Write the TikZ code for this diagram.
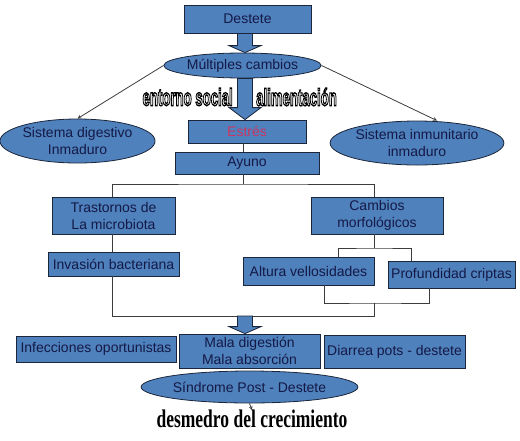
\documentclass[tikz,border=0pt]{standalone}
\usepackage{fontspec}
\setmainfont{Liberation Sans}
\newfontfamily\titlefont{Liberation Serif}
\usepackage{graphicx}
\usepackage{tikz}
\usetikzlibrary{shapes.geometric, arrows, calc}

\definecolor{boxblue}{RGB}{79,129,189}
\definecolor{boxline}{RGB}{28,38,58}
\definecolor{textnavy}{RGB}{20,25,70}
\definecolor{stressred}{RGB}{200,55,100}
\definecolor{linkgray}{RGB}{60,60,60}

% outlined letters (white inside, black edge)
\newcommand{\outlined}[1]{\scalebox{0.55}[1]{\color{white}\special{pdf:literal direct 0 0 0 RG 1.4 w 2 Tr}#1\special{pdf:literal direct 0 Tr}}}

\tikzset{
    box/.style={draw=boxline, fill=boxblue, line width=0.8pt, inner sep=0pt, align=center, text=textnavy, font=\fontsize{14}{17}\selectfont},
    oval/.style={box, ellipse},
    link/.style={draw=linkgray, line width=0.8pt},
    bigarrow/.style={draw=boxline, fill=boxblue, line width=0.8pt, line join=miter},
    wordart/.style={font=\bfseries\fontsize{24}{24}\selectfont, inner sep=0pt}
}

\begin{document}
\begin{tikzpicture}[x=1pt, y=-1pt]
    \useasboundingbox (0,0) rectangle (520,440);

    % Top of the chain
    \node[box, minimum width=127, minimum height=28] (dest) at (247.5,19) {Destete};
    \node[oval, minimum width=145, minimum height=25] (mult) at (242.5,65.5) {Múltiples cambios};
    \node[box, minimum width=118, minimum height=23, text=stressred] (estres) at (247,131.5) {Estrés};
    \node[box, minimum width=144, minimum height=22] (ayuno) at (247,163) {Ayuno};

    % Side ellipses
    \node[oval, minimum width=141, minimum height=44] (digest) at (77.5,141) {Sistema digestivo\\Inmaduro};
    \node[oval, minimum width=168, minimum height=44] (inmun) at (417,143) {Sistema inmunitario\\inmaduro};

    % Labels on the big arrow
    \node[wordart, anchor=east] (social) at (233,97) {\outlined{entorno social}};
    \node[wordart, anchor=west] (alim) at (256,97) {\outlined{alimentación}};

    % --- Two branches ---
    \node[box, minimum width=123, minimum height=37] (tras) at (113.5,215.5) {Trastornos de\\La microbiota};
    \node[box, minimum width=132, minimum height=37] (camb) at (377,215.5) {Cambios\\morfológicos};
    \node[box, minimum width=131, minimum height=24] (inv) at (113.5,264) {Invasión bacteriana};
    \node[box, minimum width=131, minimum height=28] (alt) at (308.5,271) {Altura vellosidades};
    \node[box, minimum width=127, minimum height=27] (prof) at (451.5,274.5) {Profundidad criptas};

    % --- Bottom row ---
    \node[box, minimum width=160, minimum height=26] (infec) at (96,349) {Infecciones oportunistas};
    \node[box, minimum width=141, minimum height=34] (mala) at (249.5,351) {Mala digestión\\Mala absorción};
    \node[box, minimum width=141, minimum height=33] (diarr) at (394.5,351.5) {Diarrea pots - destete};
    \node[oval, minimum width=213, minimum height=32] (sind) at (249.5,387) {Síndrome Post - Destete};
    \node[inner sep=0pt, anchor=north] (desm) at (252,410) {\titlefont\bfseries\fontsize{17.5}{18}\selectfont\scalebox{1}[1.45]{desmedro del crecimiento}};

    % Helper points
    \coordinate (axis) at (245,0);
    \coordinate (split) at (243,184);
    \coordinate (csplit) at (374,248);
    \coordinate (mjoin) at (374,303);
    \coordinate (fjoin) at (374,316);
    \coordinate (join) at (245,316);

    % Thin connectors
    \draw[link, -stealth] (mult.west) -- (digest.north);
    \draw[link, -stealth] (mult.east) -- ($(inmun.north)+(20,0)$);
    \draw[link] (estres.south -| split) -- (ayuno.north -| split);
    \draw[link] (ayuno.south -| split) -- (split);
    \draw[link] ($(tras.north)+(-1.5,0)$) |- (split) -| ($(camb.north)+(-3,0)$);
    \draw[link] ($(tras.south)+(-1.5,0)$) -- ($(inv.north)+(-1.5,0)$);
    \draw[link] ($(camb.south)+(-3,0)$) -- (csplit);
    \draw[link] ($(alt.north)+(30,0)$) |- (csplit) -| ($(prof.north)+(-40,0)$);
    \draw[link] ($(alt.south)+(16,0)$) |- (mjoin) -| ($(prof.south)+(-22,0)$);
    \draw[link] (mjoin) -- (fjoin) -| ($(inv.south)+(-1.5,0)$);
    \draw[link, -stealth] (sind.south) -- (desm.north);

    % Block arrows
    \foreach \from/\to/\head in {dest.south/mult.north/7, mult.south/estres.north/12, join/mala.north/7}
        \draw[bigarrow] let \p1=(axis |- \from), \p2=(axis |- \to) in
            (\x1-7.5pt,\y1) -- (\x1+7.5pt,\y1) -- (\x1+7.5pt,\y2+\head pt) -- (\x1+16pt,\y2+\head pt)
            -- (\x1,\y2) -- (\x1-16pt,\y2+\head pt) -- (\x1-7.5pt,\y2+\head pt) -- cycle;

\end{tikzpicture}
\end{document}
